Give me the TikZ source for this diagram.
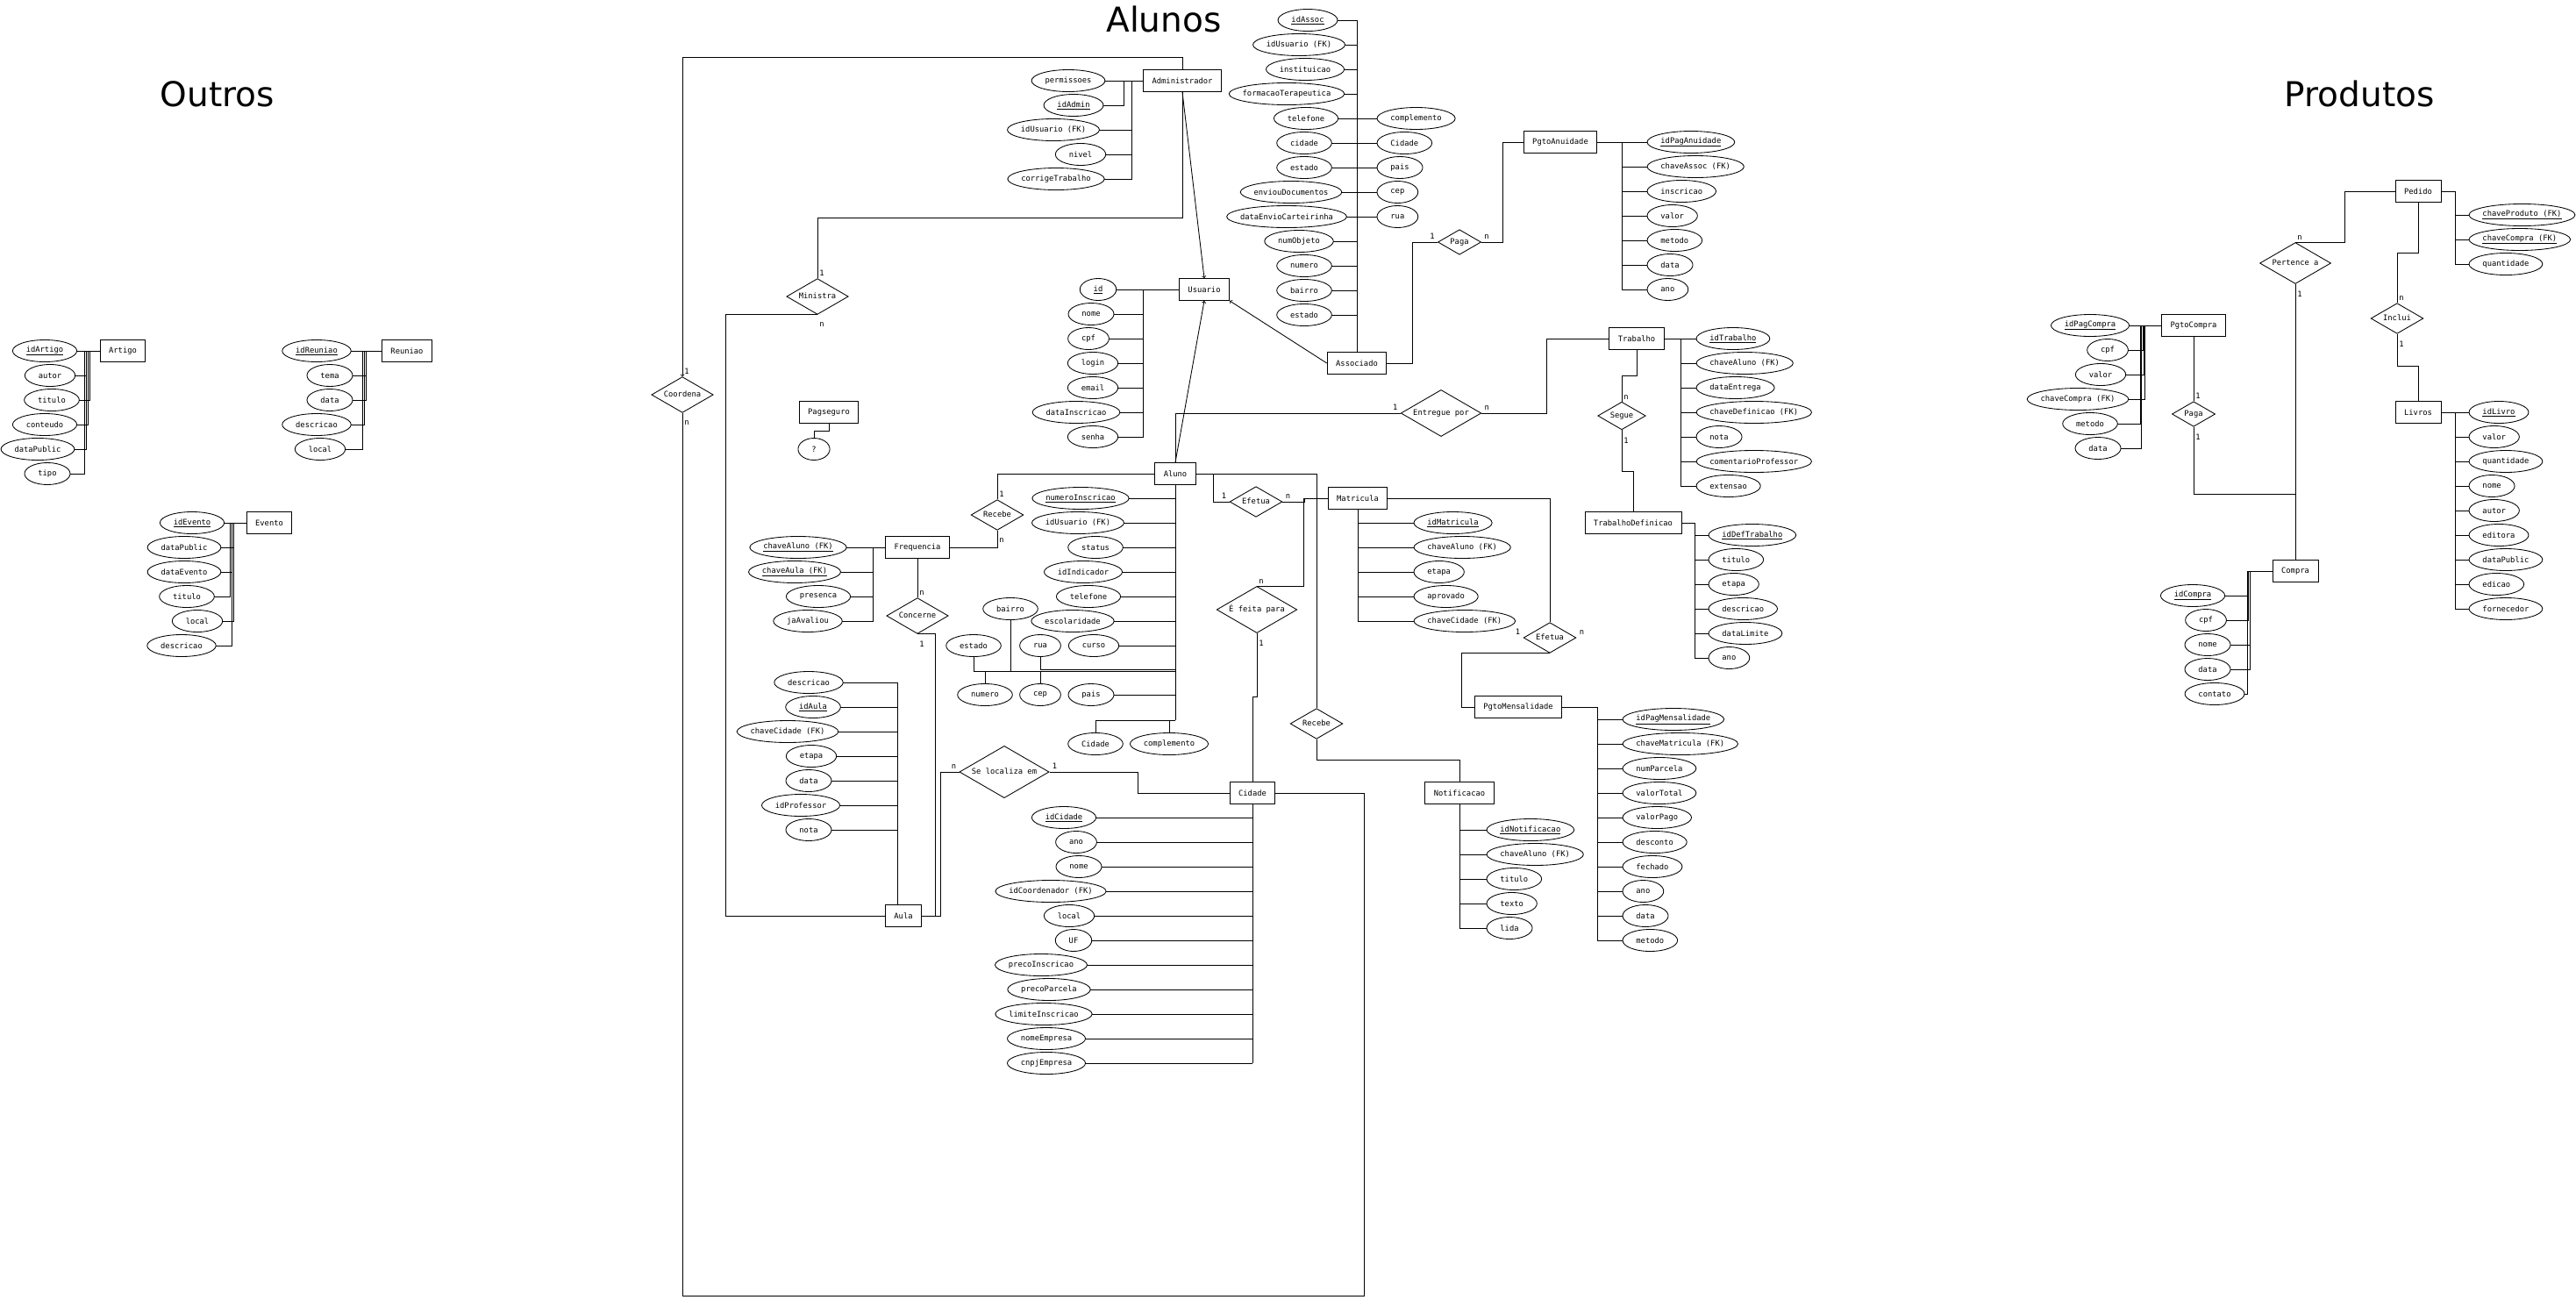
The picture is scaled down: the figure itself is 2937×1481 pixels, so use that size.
\documentclass[tikz,border=0pt]{standalone}
\usepackage{fontspec}
\setmainfont{DejaVu Sans Mono}
\newfontfamily\titlefont{DejaVu Sans}
\usetikzlibrary{shapes.geometric,positioning,calc}

\newcommand{\lblfont}{\fontsize{8.8}{10}\selectfont}
\newcommand{\attrib}[4][]{\node[attr,#1] (#2) at (#3) {#4};
\draw let \p1=($(#2.east)-(#2.center)$) in (#2.center) ellipse ({\x1} and 12.5pt);}
\newcommand{\keyattr}[4][]{\node[attr,#1] (#2) at (#3) {\underline{#4}};
\draw let \p1=($(#2.east)-(#2.center)$) in (#2.center) ellipse ({\x1} and 12.5pt);}
\newcommand{\relship}[3]{\node[rel] (#1) at (#2) {#3};}

\tikzset{
ent/.style={draw,minimum height=25pt,inner xsep=10pt,inner ysep=0pt},
attr/.style={inner xsep=15pt,inner ysep=0pt,minimum height=25pt},
rel/.style={draw,diamond,aspect=1.724,inner sep=2.45pt,text height=6.5pt,text depth=2pt},
card/.style={inner sep=1pt},
title/.style={font=\titlefont\fontsize{39}{39}\selectfont}
}

\begin{document}
\lblfont
\begin{tikzpicture}[x=1pt,y=-1pt,line width=0.85pt,font=\lblfont]
\useasboundingbox (0,0) rectangle (2937,1481);

\node[title] (tOutros) at (248,107) {Outros};
\node[title] (tAlunos) at (1327,22) {Alunos};
\node[title] (tProdutos) at (2690,107) {Produtos};

% Outros
\node[ent] (Artigo) at (140,400) {Artigo};
\keyattr{art1}{51,400}{idArtigo}
\draw (art1.east) -- (Artigo.west);
\foreach \nm/\x/\off [count=\i from 2] in {autor/57/15,titulo/59/11,conteudo/51/13,dataPublic/43/15,tipo/54/17}{
\pgfmathsetmacro\yy{372+28*\i}
\attrib{art\i}{\x,\yy}{\nm}
\draw (art\i.east) -| ([xshift=-\off pt]Artigo.west);
}

\node[ent] (Reuniao) at (464,400) {Reuniao};
\keyattr{reu1}{361,400}{idReuniao}
\draw (reu1.east) -- (Reuniao.west);
\foreach \nm/\x/\off [count=\i from 2] in {tema/376/18,data/376/18,descricao/361/20,local/365/22}{
\pgfmathsetmacro\yy{372+28*\i}
\attrib{reu\i}{\x,\yy}{\nm}
\draw (reu\i.east) -| ([xshift=-\off pt]Reuniao.west);
}

\node[ent] (Evento) at (307,596) {Evento};
\keyattr{eve1}{219,596}{idEvento}
\draw (eve1.east) -- (Evento.west);
\foreach \nm/\x/\off [count=\i from 2] in {dataPublic/210/14,dataEvento/210/16,titulo/213/18,local/225/14,descricao/207/16}{
\pgfmathsetmacro\yy{568+28*\i}
\attrib{eve\i}{\x,\yy}{\nm}
\draw (eve\i.east) -| ([xshift=-\off pt]Evento.west);
}

% Alunos
\node[ent] (Administrador) at (1348,92) {Administrador};
\node[ent] (Usuario) at (1373,330) {Usuario};
\node[ent] (Associado) at (1547,414) {Associado};
\node[ent] (PgtoAnuidade) at (1779,162) {PgtoAnuidade};
\node[ent] (Trabalho) at (1866,386) {Trabalho};
\node[ent] (TrabDef) at (1862,596) {TrabalhoDefinicao};
\node[ent] (Aluno) at (1340,540) {Aluno};
\node[ent] (Matricula) at (1548,568) {Matricula};
\node[ent] (Frequencia) at (1046,624) {Frequencia};
\node[ent] (Aula) at (1030,1044) {Aula};
\node[ent] (Cidade) at (1428,904) {Cidade};
\node[ent] (Notificacao) at (1664,904) {Notificacao};
\node[ent] (PgtoMens) at (1731,806) {PgtoMensalidade};
\node[ent] (Pagseguro) at (945,470) {Pagseguro};

\relship{ministra}{932,338}{Ministra}
\relship{coordena}{778,450}{Coordena}
\relship{pagaA}{1664,276}{Paga}
\relship{entregue}{1643,471}{Entregue por}
\relship{segue}{1849,474}{Segue}
\relship{efetuaA}{1432,572}{Efetua}
\relship{efetuaB}{1767,727}{Efetua}
\relship{recebeA}{1137,587}{Recebe}
\relship{recebeB}{1501,825}{Recebe}
\relship{feita}{1433,695}{É feita para}
\relship{concerne}{1046,702}{Concerne}
\relship{localiza}{1145,880}{Se localiza em}

\attrib{adm1}{1218,92}{permissoes}
\draw (adm1.east) -- (Administrador.west);
\keyattr{adm2}{1224,120}{idAdmin}
\draw (adm2.east) -| ([xshift=-22pt]Administrador.west);
\foreach \nm/\x [count=\i from 3] in {idUsuario (FK)/1201,nivel/1232,corrigeTrabalho/1204}{
\pgfmathsetmacro\yy{64+28*\i}
\attrib{adm\i}{\x,\yy}{\nm}
\draw (adm\i.east) -| ([xshift=-13pt]Administrador.west);
}

\keyattr{usu1}{1252,330}{id}
\draw (usu1.east) -- (Usuario.west);
\foreach \nm/\x [count=\i from 2] in {nome/1244,cpf/1241,login/1246,email/1246,dataInscricao/1227,senha/1246}{
\pgfmathsetmacro\yy{302+28*\i}
\attrib{usu\i}{\x,\yy}{\nm}
\draw (usu\i.east) -| ([xshift=-41pt]Usuario.west);
}

\keyattr{aso1}{1491,23}{idAssoc}
\draw (aso1.east) -| (Associado.north);
\foreach \nm/\x [count=\i from 2] in {idUsuario (FK)/1481,instituicao/1488,formacaoTerapeutica/1467,telefone/1489,cidade/1487,estado/1487,enviouDocumentos/1472,dataEnvioCarteirinha/1467,numObjeto/1481,numero/1487,bairro/1487,estado/1487}{
\pgfmathsetmacro\yy{-5+28*\i}
\attrib{aso\i}{\x,\yy}{\nm}
\draw (aso\i.east) -- (aso\i.east -| Associado.north);
}
\foreach \nm [count=\i from 5] in {complemento,Cidade,pais,cep,rua}{
\pgfmathsetmacro\yy{-5+28*\i}
\attrib[anchor=west]{asr\i}{1570,\yy}{\nm}
\draw (asr\i.west) -- (asr\i.west -| Associado.north);
}

\keyattr[anchor=west]{pan1}{1878,162}{idPagAnuidade}
\foreach \nm [count=\i from 2] in {chaveAssoc (FK),inscricao,valor,metodo,data,ano}{
\pgfmathsetmacro\yy{134+28*\i}
\attrib[anchor=west]{pan\i}{1878,\yy}{\nm}
}
\coordinate (panBus) at ([xshift=28pt]PgtoAnuidade.east);
\draw (PgtoAnuidade.east) -- (pan1.west);
\draw (panBus) |- (pan7.west);
\foreach \i in {2,...,6} \draw (pan\i.west) -- (pan\i.west -| panBus);

\keyattr[anchor=west]{tra1}{1934,386}{idTrabalho}
\foreach \nm [count=\i from 2] in {chaveAluno (FK),dataEntrega,chaveDefinicao (FK),nota,comentarioProfessor,extensao}{
\pgfmathsetmacro\yy{358+28*\i}
\attrib[anchor=west]{tra\i}{1934,\yy}{\nm}
}
\coordinate (traBus) at ([xshift=19pt]Trabalho.east);
\draw (Trabalho.east) -- (tra1.west);
\draw (traBus) |- (tra7.west);
\foreach \i in {2,...,6} \draw (tra\i.west) -- (tra\i.west -| traBus);

\keyattr[anchor=west]{td1}{1948,610}{idDefTrabalho}
\foreach \nm [count=\i from 2] in {titulo,etapa,descricao,dataLimite,ano}{
\pgfmathsetmacro\yy{582+28*\i}
\attrib[anchor=west]{td\i}{1948,\yy}{\nm}
}
\coordinate (tdBus) at ([xshift=15pt]TrabDef.east);
\draw (TrabDef.east) -- (tdBus) |- (td6.west);
\foreach \i in {1,...,5} \draw (td\i.west) -- (td\i.west -| tdBus);

\keyattr{alu1}{1232,568}{numeroInscricao}
\foreach \nm/\x [count=\i from 2] in {idUsuario (FK)/1229,status/1249,idIndicador/1235,telefone/1241,escolaridade/1223,curso/1247}{
\pgfmathsetmacro\yy{540+28*\i}
\attrib{alu\i}{\x,\yy}{\nm}
}
\foreach \i in {1,...,7} \draw (alu\i.east) -- (alu\i.east -| Aluno.south);
\attrib{aluBairro}{1152,694}{bairro}
\attrib{aluEstado}{1110,736}{estado}
\attrib{aluRua}{1186,736}{rua}
\attrib{aluNumero}{1123,792}{numero}
\attrib{aluCep}{1186,792}{cep}
\attrib{aluPais}{1244,792}{pais}
\attrib{aluCidade}{1249,848}{Cidade}
\attrib{aluCompl}{1333,848}{complemento}
\coordinate (aluMid) at (1340,765);
\coordinate (aluEnd) at (1340,821);
\draw (Aluno.south) -- (aluEnd);
\draw (aluEstado.south) |- (aluMid);
\draw (aluBairro.south) -- (aluBairro.south |- aluMid);
\draw (aluRua.south) |- ([yshift=2pt]aluMid);
\draw (aluNumero.north) -- (aluNumero.north |- aluMid);
\draw (aluCep.north) -- (aluCep.north |- aluMid);
\draw (aluPais.east) -- (aluPais.east -| aluEnd);
\draw (aluCidade.north) |- (aluEnd);
\draw (aluCompl.north) -- (aluCompl.north |- aluEnd);

\keyattr{fre1}{910,624}{chaveAluno (FK)}
\keyattr{fre2}{906,652}{chaveAula (FK)}
\attrib{fre3}{933,680}{presenca}
\attrib{fre4}{921,708}{jaAvaliou}
\coordinate (freBus) at ([xshift=-14pt]Frequencia.west);
\draw (fre1.east) -- (Frequencia.west);
\foreach \i in {2,3,4} \draw (fre\i.east) -| (freBus);

\attrib{aul1}{922,778}{descricao}
\keyattr{aul2}{927,806}{idAula}
\foreach \nm/\x [count=\i from 3] in {chaveCidade (FK)/898,etapa/925,data/922,idProfessor/913,nota/922}{
\pgfmathsetmacro\yy{750+28*\i}
\attrib{aul\i}{\x,\yy}{\nm}
}
\coordinate (aulBus) at ([xshift=-7pt]Aula.north);
\draw (aulBus) |- (aul1.east);
\foreach \i in {2,...,7} \draw (aul\i.east) -- (aul\i.east -| aulBus);

\keyattr{cid1}{1213,932}{idCidade}
\foreach \nm/\x [count=\i from 2] in {ano/1227,nome/1230,idCoordenador (FK)/1198,local/1219,UF/1224,precoInscricao/1187,precoParcela/1196,limiteInscricao/1190,nomeEmpresa/1193,cnpjEmpresa/1193}{
\pgfmathsetmacro\yy{904+28*\i}
\attrib{cid\i}{\x,\yy}{\nm}
}
\draw (Cidade.south) -- (Cidade.south |- cid11.east);
\foreach \i in {1,...,11} \draw (cid\i.east) -- (cid\i.east -| Cidade.south);

\keyattr[anchor=west]{mat1}{1612,596}{idMatricula}
\foreach \nm [count=\i from 2] in {chaveAluno (FK),etapa,aprovado,chaveCidade (FK)}{
\pgfmathsetmacro\yy{568+28*\i}
\attrib[anchor=west]{mat\i}{1612,\yy}{\nm}
}
\draw (Matricula.south) |- (mat5.west);
\foreach \i in {1,...,4} \draw (mat\i.west) -- (mat\i.west -| Matricula.south);

\keyattr[anchor=west]{not1}{1695,946}{idNotificacao}
\foreach \nm [count=\i from 2] in {chaveAluno (FK),titulo,texto,lida}{
\pgfmathsetmacro\yy{918+28*\i}
\attrib[anchor=west]{not\i}{1695,\yy}{\nm}
}
\draw (Notificacao.south) |- (not5.west);
\foreach \i in {1,...,4} \draw (not\i.west) -- (not\i.west -| Notificacao.south);

\keyattr[anchor=west]{pm1}{1850,820}{idPagMensalidade}
\foreach \nm [count=\i from 2] in {chaveMatricula (FK),numParcela,valorTotal,valorPago,desconto,fechado,ano,data,metodo}{
\pgfmathsetmacro\yy{792+28*\i}
\attrib[anchor=west]{pm\i}{1850,\yy}{\nm}
}
\coordinate (pmBus) at ([xshift=40pt]PgtoMens.east);
\draw (PgtoMens.east) -- (pmBus) |- (pm10.west);
\foreach \i in {1,...,9} \draw (pm\i.west) -- (pm\i.west -| pmBus);

\attrib{pag1}{928,512}{?}
\draw (Pagseguro.south) -- ++(0,8) -| (pag1.north);

\draw[->] (Administrador.north) -- ++(0,-14) -| (coordena.north);
\draw (Administrador.south) -- ++(0,143) -| (ministra.north);
\draw (ministra.south) -- ++(-105,0) |- (Aula.west);
\draw (coordena.south) -- ++(0,1007) -- ++(777,0) |- (Cidade.east);
\draw[->] (Administrador.south) -- (Usuario.north);
\draw[->] (Associado.west) -- (Usuario.south east);
\draw[->] (Aluno.north) -- (Usuario.south);
\draw (Associado.east) -- ++(29,0) |- (pagaA.west);
\draw (pagaA.east) -- ++(24,0) |- (PgtoAnuidade.west);
\draw (Aluno.north) |- (entregue.west);
\draw (entregue.east) -- ++(74,0) |- (Trabalho.west);
\draw (Trabalho.south) -- ++(0,29) -| (segue.north);
\draw (segue.south) -- ++(0,47) -| (TrabDef.north);
\draw (Aluno.east) -- ++(20,0) |- (efetuaA.west);
\draw (efetuaA.east) -- ++(25,0) |- (Matricula.west);
\draw (Matricula.west) -- ++(-27,0) |- (feita.north);
\draw (feita.south) -- ++(0,72) -| (Cidade.north);
\draw (Aluno.east) -| (recebeB.north);
\draw (recebeB.south) -- ++(0,24) -| (Notificacao.north);
\draw (Matricula.east) -| (efetuaB.north);
\draw (efetuaB.south) -- ++(-101,0) |- (PgtoMens.west);
\draw (Aluno.west) -| (recebeA.north);
\draw (recebeA.south) |- (Frequencia.east);
\draw (Frequencia.south) -- (concerne.north);
\draw (concerne.south) -- ++(20,0) |- (Aula.east);
\draw (localiza.west) -- ++(-21,0) |- (Aula.east);
\draw (localiza.east) -- ++(101,0) |- (Cidade.west);

\node[card,above right=1pt and 1pt of ministra.north] (ministra1) {1};
\node[card,below right=7pt and 1pt of ministra.south] (ministraN) {n};
\node[card,above right=1pt and 1pt of coordena.north] (coordena1) {1};
\node[card,below right=7pt and 1pt of coordena.south] (coordenaN) {n};
\node[card,above left=2pt and 2pt of pagaA.west] (pagaA1) {1};
\node[card,above right=2pt and 2pt of pagaA.east] (pagaAN) {n};
\node[card,above left=2pt and 2pt of entregue.west] (entregue1) {1};
\node[card,above right=2pt and 2pt of entregue.east] (entregueN) {n};
\node[card,above right=1pt and 1pt of segue.north] (segueN) {n};
\node[card,below right=7pt and 1pt of segue.south] (segue1) {1};
\node[card,above left=2pt and 2pt of efetuaA.west] (efetuaA1) {1};
\node[card,above right=2pt and 2pt of efetuaA.east] (efetuaAN) {n};
\node[card,above left=2pt and 2pt of efetuaB.west] (efetuaB1) {1};
\node[card,above right=2pt and 2pt of efetuaB.east] (efetuaBN) {n};
\node[card,above right=1pt and 1pt of recebeA.north] (recebeA1) {1};
\node[card,below right=7pt and 1pt of recebeA.south] (recebeAN) {n};
\node[card,above right=1pt and 1pt of feita.north] (feitaN) {n};
\node[card,below right=7pt and 1pt of feita.south] (feita1) {1};
\node[card,above right=1pt and 1pt of concerne.north] (concerneN) {n};
\node[card,below right=7pt and 1pt of concerne.south] (concerne1) {1};
\node[card,above left=2pt and 2pt of localiza.west] (localizaN) {n};
\node[card,above right=2pt and 2pt of localiza.east] (localiza1) {1};

% Produtos
\node[ent] (Pedido) at (2757,218) {Pedido};
\node[ent] (Livros) at (2757,470) {Livros};
\node[ent] (PgtoCompra) at (2501,371) {PgtoCompra};
\node[ent] (Compra) at (2617,651) {Compra};
\relship{pertence}{2617,300}{Pertence a}
\relship{inclui}{2733,363}{Inclui}
\relship{pagaB}{2501,472}{Paga}
\draw (Pedido.west) -- ++(-57,0) |- (pertence.north);
\draw (pertence.south) -- (Compra.north);
\draw (Pedido.south) -- ++(0,57) -| (inclui.north);
\draw (inclui.south) -- ++(0,37) -| (Livros.north);
\draw (PgtoCompra.south) -- (pagaB.north);
\draw (pagaB.south) -- ++(0,77) -| (Compra.north);
\node[card,above right=1pt and 1pt of pertence.north] (pertenceN) {n};
\node[card,below right=7pt and 1pt of pertence.south] (pertence1) {1};
\node[card,above right=1pt and 1pt of inclui.north] (incluiN) {n};
\node[card,below right=7pt and 1pt of inclui.south] (inclui1) {1};
\node[card,above right=1pt and 1pt of pagaB.north] (pagaB1) {1};
\node[card,below right=7pt and 1pt of pagaB.south] (pagaB2) {1};

\keyattr[anchor=west]{ped1}{2815,245}{chaveProduto (FK)}
\keyattr[anchor=west]{ped2}{2815,273}{chaveCompra (FK)}
\attrib[anchor=west]{ped3}{2815,301}{quantidade}
\coordinate (pedBus) at ([xshift=16pt]Pedido.east);
\draw (Pedido.east) -- (pedBus) |- (ped3.west);
\foreach \i in {1,2} \draw (ped\i.west) -- (ped\i.west -| pedBus);

\keyattr[anchor=west]{liv1}{2815,470}{idLivro}
\foreach \nm [count=\i from 2] in {valor,quantidade,nome,autor,editora,dataPublic,edicao,fornecedor}{
\pgfmathsetmacro\yy{442+28*\i}
\attrib[anchor=west]{liv\i}{2815,\yy}{\nm}
}
\coordinate (livBus) at ([xshift=16pt]Livros.east);
\draw (Livros.east) -- (liv1.west);
\draw (livBus) |- (liv9.west);
\foreach \i in {2,...,8} \draw (liv\i.west) -- (liv\i.west -| livBus);

\keyattr{pgc1}{2383,371}{idPagCompra}
\draw (pgc1.east) -- (PgtoCompra.west);
\foreach \nm/\x/\off [count=\i from 2] in {cpf/2403/21,valor/2395/20,chaveCompra (FK)/2369/19,metodo/2383/24,data/2392/23}{
\pgfmathsetmacro\yy{343+28*\i}
\attrib{pgc\i}{\x,\yy}{\nm}
\draw (pgc\i.east) -| ([xshift=-\off pt]PgtoCompra.west);
}

\keyattr{com1}{2500,679}{idCompra}
\draw (com1.east) -| ([xshift=-28pt]Compra.west) -- (Compra.west);
\foreach \nm/\x/\off [count=\i from 2] in {cpf/2515/27,nome/2517/25,data/2517/25,contato/2525/28}{
\pgfmathsetmacro\yy{651+28*\i}
\attrib{com\i}{\x,\yy}{\nm}
\draw (com\i.east) -| ([xshift=-\off pt]Compra.west);
}
\end{tikzpicture}
\end{document}
